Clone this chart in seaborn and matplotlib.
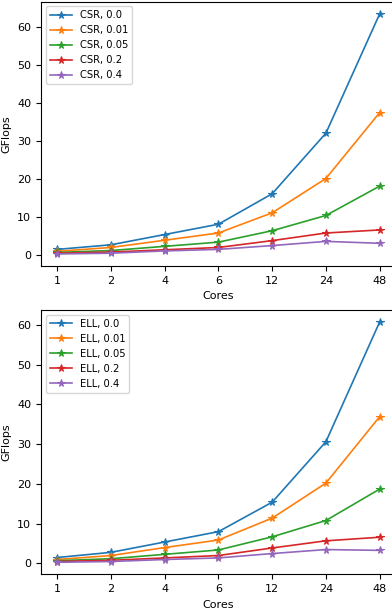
import matplotlib
matplotlib.use("Agg")
import matplotlib.pyplot as plt
import seaborn as sns
import pandas as pd

cores = ["1", "2", "4", "6", "12", "24", "48"]
sparsity = ["0.0", "0.01", "0.05", "0.2", "0.4"]

csr_gflops = {
    "0.0":  [1.5, 2.7, 5.4, 8.1, 16.1, 32.0, 63.3],
    "0.01": [1.0, 2.0, 3.9, 5.8, 11.1, 20.1, 37.4],
    "0.05": [0.7, 1.2, 2.3, 3.4, 6.4, 10.4, 18.1],
    "0.2":  [0.5, 0.8, 1.4, 2.0, 3.8, 5.8, 6.6],
    "0.4":  [0.3, 0.5, 1.1, 1.5, 2.5, 3.6, 3.1],
}
ell_gflops = {
    "0.0":  [1.5, 2.8, 5.4, 8.0, 15.4, 30.6, 60.7],
    "0.01": [1.0, 2.0, 4.0, 5.9, 11.4, 20.2, 36.9],
    "0.05": [0.7, 1.2, 2.3, 3.4, 6.7, 10.8, 18.7],
    "0.2":  [0.5, 0.8, 1.4, 2.0, 3.9, 5.7, 6.6],
    "0.4":  [0.3, 0.5, 1.0, 1.4, 2.5, 3.5, 3.3],
}

plt.rcParams.update({"font.size": 8, "font.family": ["DejaVu Sans"]})

fig = plt.figure(figsize=(3.92, 6.10), dpi=100)
ax_top = fig.add_axes([0.1046, 0.564, 0.905, 0.4328])
ax_bot = fig.add_axes([0.1046, 0.0585, 0.905, 0.4333])

palette = sns.color_palette("tab10", len(sparsity))


def draw(ax, fmt, data):
    for color, s in zip(palette, sparsity):
        df = pd.DataFrame({"Cores": cores, "GFlops": data[s]})
        sns.lineplot(data=df, x="Cores", y="GFlops", color=color,
                     marker="*", markersize=5.5, linewidth=1.2,
                     markeredgecolor=color, markeredgewidth=0.8,
                     sort=False, label=f"{fmt}, {s}", ax=ax)
    ax.set_xlabel("Cores")
    ax.set_ylabel("GFlops")
    ax.set_yticks([0, 10, 20, 30, 40, 50, 60])
    ax.margins(x=0.05, y=0.05)
    ax.legend(loc="upper left", fontsize=7.2, handlelength=2.2,
              borderaxespad=0.45)


draw(ax_top, "CSR", csr_gflops)
draw(ax_bot, "ELL", ell_gflops)

fig.savefig("out.png", dpi=100)
